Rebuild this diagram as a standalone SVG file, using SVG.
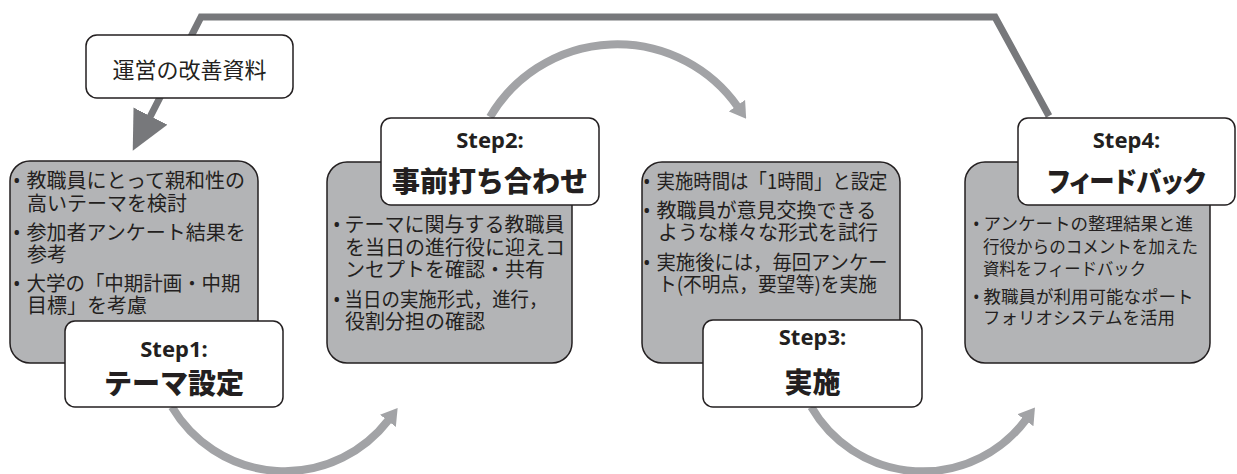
<svg xmlns="http://www.w3.org/2000/svg" width="1237" height="474" viewBox="0 0 1237 474">
<defs>
<style>
.panel{fill:#b3b4b6;stroke:#231f20;stroke-width:1.5}
.title{fill:#ffffff;stroke:#231f20;stroke-width:1.5}
.body{font-family:"Noto Sans CJK JP","Noto Sans",sans-serif;font-size:20px;fill:#231f20}
.b4{font-size:17.5px}
.bul{font-family:"Noto Sans",sans-serif}
.call{font-family:"Noto Sans CJK JP",sans-serif;font-size:22px;fill:#231f20;text-anchor:middle;font-weight:400}
.step{font-family:"Noto Sans","Open Sans",sans-serif;font-weight:700;font-size:22px;fill:#231f20;text-anchor:middle}
.head{font-family:"Noto Sans CJK JP",sans-serif;font-weight:900;font-size:28px;fill:#231f20;text-anchor:middle}
.cycle{fill:none;stroke:#a2a3a6;stroke-width:8}
.fb{fill:none;stroke:#77787b;stroke-width:7;stroke-linejoin:miter}
</style>
<marker id="cyc" markerUnits="userSpaceOnUse" markerWidth="16" markerHeight="20" viewBox="0 0 16 20" refX="1" refY="10" orient="auto"><path d="M0,0 L16,10 L0,20 z" fill="#a2a3a6"/></marker>
<marker id="fbh" markerUnits="userSpaceOnUse" markerWidth="39" markerHeight="38" viewBox="0 0 39 38" refX="1" refY="19" orient="auto"><path d="M0,0 L39,19 L0,38 z" fill="#77787b"/></marker>
</defs>

<g id="connectors">
<path class="fb" d="M 1049 116 L 995 17 L 201 17 L 150 117" marker-end="url(#fbh)"/>
<path class="cycle" d="M 172 407 A 131 131 0 0 0 388.5 420" marker-end="url(#cyc)"/>
<path class="cycle" d="M 490 117 A 147.5 147.5 0 0 1 737.5 106.5" marker-end="url(#cyc)"/>
<path class="cycle" d="M 811.3 407 A 128.7 128.7 0 0 0 1026 419.5" marker-end="url(#cyc)"/>
</g>

<g id="callout">
<rect class="title" x="86" y="35" width="207" height="63" rx="11"/>
<text class="call" x="189.5" y="78">運営の改善資料</text>
</g>

<g id="step1">
<rect class="panel" x="10" y="161" width="248" height="202" rx="20"/>
<text class="body" x="13" y="188"><tspan class="bul">•</tspan><tspan dx="6">教職員にとって親和性の</tspan></text>
<text class="body" x="27" y="211">高いテーマを検討</text>
<text class="body" x="13" y="240"><tspan class="bul">•</tspan><tspan dx="6">参加者アンケート結果を</tspan></text>
<text class="body" x="27" y="262">参考</text>
<text class="body" x="13" y="291"><tspan class="bul">•</tspan><tspan dx="6" textLength="214" lengthAdjust="spacingAndGlyphs">大学の「中期計画・中期</tspan></text>
<text class="body" x="27" y="313">目標」を考慮</text>
<rect class="title" x="65" y="321" width="218" height="86" rx="10"/>
<text class="step" x="174" y="357">Step1:</text>
<text class="head" x="174" y="394">テーマ設定</text>
</g>

<g id="step2">
<rect class="panel" x="327" y="162" width="245" height="201" rx="20"/>
<text class="body" x="333" y="232"><tspan class="bul">•</tspan><tspan dx="4">テーマに関与する教職員</tspan></text>
<text class="body" x="345" y="255">を当日の進行役に迎えコ</text>
<text class="body" x="345" y="277">ンセプトを確認・共有</text>
<text class="body" x="333" y="307"><tspan class="bul">•</tspan><tspan dx="4" textLength="203" lengthAdjust="spacingAndGlyphs">当日の実施形式，進行，</tspan></text>
<text class="body" x="345" y="329">役割分担の確認</text>
<rect class="title" x="381" y="118" width="218" height="87" rx="10"/>
<text class="step" x="490" y="148">Step2:</text>
<text class="head" x="490" y="192">事前打ち合わせ</text>
</g>

<g id="step3">
<rect class="panel" x="642" y="162" width="258" height="201" rx="20"/>
<text class="body" x="643" y="189"><tspan class="bul">•</tspan><tspan dx="6" textLength="231" lengthAdjust="spacingAndGlyphs">実施時間は「1時間」と設定</tspan></text>
<text class="body" x="643" y="218"><tspan class="bul">•</tspan><tspan dx="6">教職員が意見交換できる</tspan></text>
<text class="body" x="658" y="240">ような様々な形式を試行</text>
<text class="body" x="643" y="270"><tspan class="bul">•</tspan><tspan dx="6" textLength="231" lengthAdjust="spacingAndGlyphs">実施後には，毎回アンケー</tspan></text>
<text class="body" x="658" y="292" textLength="219" lengthAdjust="spacingAndGlyphs">ト(不明点，要望等)を実施</text>
<rect class="title" x="703" y="320" width="219" height="87" rx="10"/>
<text class="step" x="812.5" y="345">Step3:</text>
<text class="head" x="812.5" y="393">実施</text>
</g>

<g id="step4">
<rect class="panel" x="965" y="162" width="245" height="201" rx="20"/>
<text class="body b4" x="973" y="230"><tspan class="bul">•</tspan><tspan dx="4">アンケートの整理結果と進</tspan></text>
<text class="body b4" x="983" y="253" textLength="215" lengthAdjust="spacingAndGlyphs">行役からのコメントを加えた</text>
<text class="body b4" x="983" y="275" textLength="163" lengthAdjust="spacingAndGlyphs">資料をフィードバック</text>
<text class="body b4" x="973" y="303"><tspan class="bul">•</tspan><tspan dx="4">教職員が利用可能なポート</tspan></text>
<text class="body b4" x="983" y="324">フォリオシステムを活用</text>
<rect class="title" x="1018" y="118" width="217" height="87" rx="10"/>
<text class="step" x="1126.5" y="148">Step4:</text>
<text class="head" x="1126.5" y="192" textLength="158" lengthAdjust="spacingAndGlyphs" style="font-feature-settings:'palt'">フィードバック</text>
</g>
</svg>
